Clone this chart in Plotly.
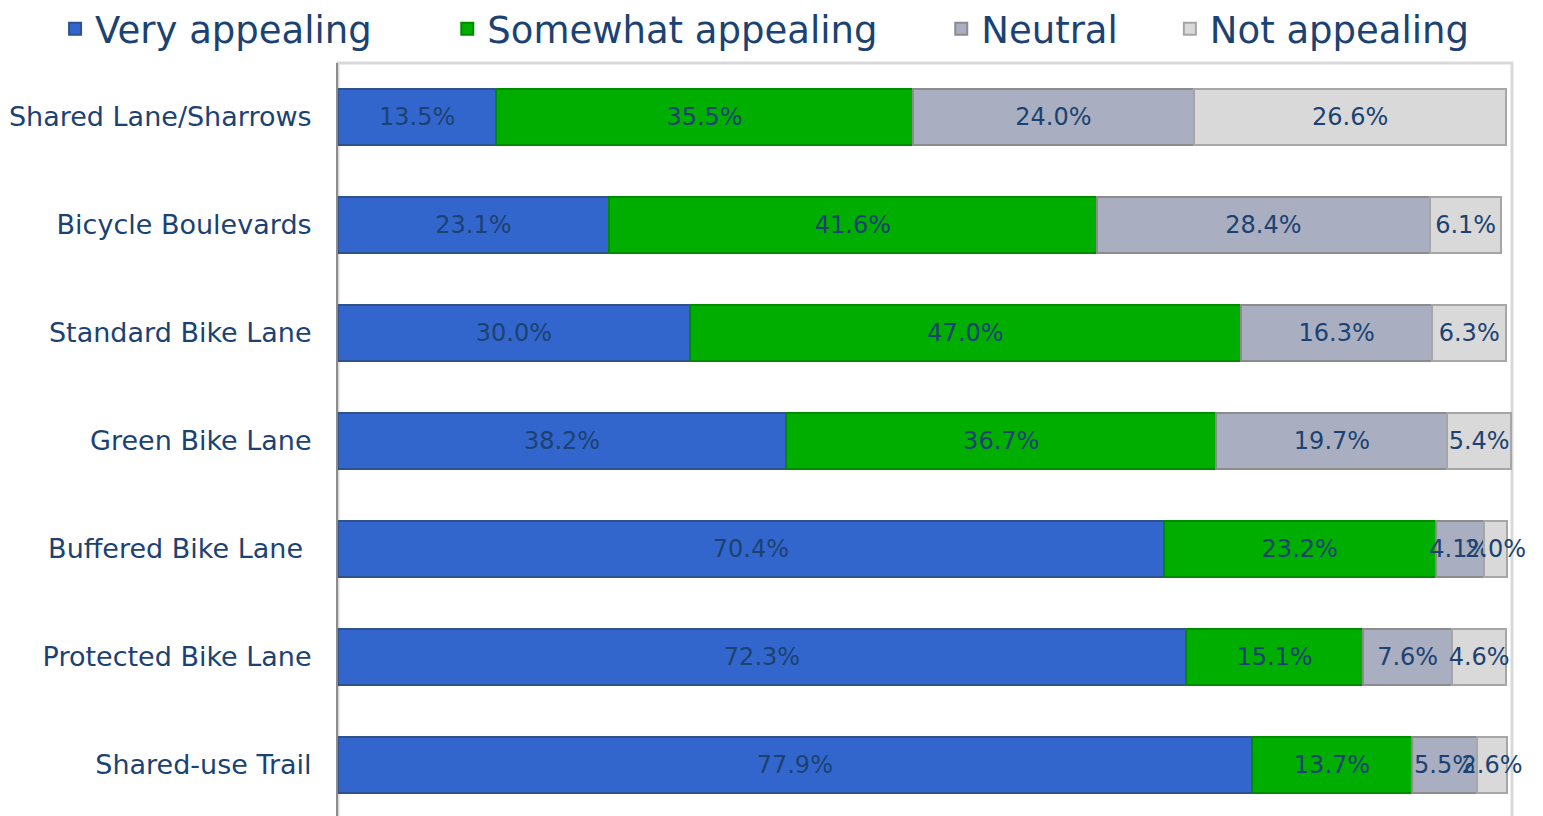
import plotly.graph_objects as go

categories = ["Shared Lane/Sharrows", "Bicycle Boulevards", "Standard Bike Lane",
              "Green Bike Lane", "Buffered Bike Lane\u00a0", "Protected Bike Lane",
              "Shared-use Trail"]
very = [13.5, 23.1, 30.0, 38.2, 70.4, 72.3, 77.9]
somewhat = [35.5, 41.6, 47.0, 36.7, 23.2, 15.1, 13.7]
neutral = [24.0, 28.4, 16.3, 19.7, 4.1, 7.6, 5.5]
notapp = [26.6, 6.1, 6.3, 5.4, 2.0, 4.6, 2.6]
legend_pad = [6, 5, 4, 0]

series = [
    ("Very appealing", very, "#3366CC", "#2F528F"),
    ("Somewhat appealing", somewhat, "#00AE00", "#008A00"),
    ("Neutral", neutral, "#A9AFC1", "#8C8C8C"),
    ("Not appealing", notapp, "#D9D9D9", "#A6A6A6"),
]

FONT = "DejaVu Sans"
TXT = "#1B4272"

fig = go.Figure()
for (name, vals, col, lcol), pad in zip(series, legend_pad):
    fig.add_trace(go.Bar(
        y=categories, x=vals, name=name + "\u00a0" * pad, orientation="h",
        marker=dict(color=col, line=dict(color=lcol, width=2)),
        text=[f"{v:.1f}%" for v in vals],
        textposition="inside", insidetextanchor="middle",
        textangle=0, constraintext="none", cliponaxis=False,
        textfont=dict(family=FONT, size=24, color=TXT),
        width=0.52,
    ))

fig.update_layout(
    barmode="stack",
    width=1543, height=816,
    paper_bgcolor="white", plot_bgcolor="white",
    margin=dict(l=338, r=31, t=63, b=0, autoexpand=False),
    font=dict(family=FONT, color=TXT),
    legend=dict(orientation="h", x=-0.241, y=1.086,
                xanchor="left", yanchor="top",
                font=dict(family=FONT, size=37, color=TXT),
                traceorder="normal"),
    xaxis=dict(range=[0, 100.1], showgrid=False, showticklabels=False,
               zeroline=False, showline=False, ticks=""),
    yaxis=dict(categoryorder="array", categoryarray=categories,
               range=[6.472, -0.5], showgrid=False, zeroline=False,
               showline=True, linecolor="#8C8C8C", linewidth=2,
               ticks="outside", ticklen=19, tickcolor="rgba(0,0,0,0)",
               tickfont=dict(family=FONT, size=27, color=TXT)),
    shapes=[dict(type="rect", xref="paper", yref="paper", x0=0, x1=1,
                 y0=-0.1, y1=1, line=dict(color="#D9D9D9", width=3),
                 layer="below")],
)

fig.write_html("out.html", config={"displayModeBar": False},
               post_script="document.body.style.margin='0';document.body.style.overflow='hidden';")
